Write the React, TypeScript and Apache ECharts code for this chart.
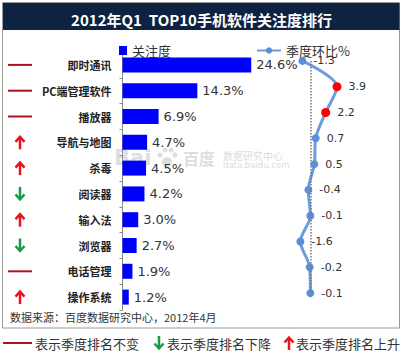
import React, { useEffect, useRef } from "react";
import * as echarts from "echarts";

const categories = ["即时通讯", "PC端管理软件", "播放器", "导航与地图", "杀毒", "阅读器", "输入法", "浏览器", "电话管理", "操作系统"];
const attention = [24.6, 14.3, 6.9, 4.7, 4.5, 4.2, 3.0, 2.7, 1.9, 1.2];
const qoq = [-1.3, 3.9, 2.2, 0.7, 0.5, -0.4, -0.1, -1.6, -0.2, -0.1];
const rankChange = ["same", "same", "same", "up", "up", "down", "up", "down", "same", "up"];
const footerItems = [
  { kind: "same", text: "表示季度排名不变" },
  { kind: "down", text: "表示季度排名下降" },
  { kind: "up", text: "表示季度排名上升" },
];

const CJK = "'Noto Sans CJK SC', 'Noto Sans', sans-serif";
const NUM = "'DejaVu Sans', Verdana, sans-serif";
const RED = "#e8141b";
const GREEN = "#1a9b48";
const DARKRED = "#a8141e";

function indicator(kind: string, cx: number, cy: number, dashX0: number, dashX1: number): any[] {
  if (kind === "same") {
    return [{ type: "line", shape: { x1: dashX0, y1: cy, x2: dashX1, y2: cy }, style: { stroke: DARKRED, lineWidth: 2 } }];
  }
  if (kind === "up") {
    return [
      { type: "line", shape: { x1: cx, y1: cy - 5, x2: cx, y2: cy + 7 }, style: { stroke: RED, lineWidth: 2.5 } },
      { type: "polyline", shape: { points: [[cx - 4.5, cy - 0.5], [cx, cy - 5.5], [cx + 4.5, cy - 0.5]] }, style: { stroke: RED, lineWidth: 2.5, fill: null } },
    ];
  }
  return [
    { type: "line", shape: { x1: cx, y1: cy + 5, x2: cx, y2: cy - 7 }, style: { stroke: GREEN, lineWidth: 2.5 } },
    { type: "polyline", shape: { points: [[cx - 4.5, cy + 0.5], [cx, cy + 5.5], [cx + 4.5, cy + 0.5]] }, style: { stroke: GREEN, lineWidth: 2.5, fill: null } },
  ];
}

export default function App() {
  const ref = useRef<HTMLDivElement>(null);
  useEffect(() => {
    if (!ref.current) return;
    const chart = echarts.init(ref.current, null, { renderer: "svg", width: 403, height: 357 });
    const option: any = {
      animation: false,
      backgroundColor: "#ffffff",
      title: {
        text: "2012年Q1  TOP10手机软件关注度排行",
        left: "center",
        top: 7,
        textStyle: { color: "#ffffff", fontSize: 15, fontWeight: "bold", fontFamily: CJK },
      },
      legend: [
        {
          data: ["关注度"],
          left: 114,
          top: 39,
          icon: "rect",
          itemWidth: 8,
          itemHeight: 9,
          textStyle: { fontSize: 13, color: "#333", fontFamily: CJK },
        },
        {
          data: ["季度环比%"],
          left: 251,
          top: 39,
          itemWidth: 24,
          itemHeight: 8,
          textStyle: { fontSize: 13, color: "#333", fontFamily: CJK },
        },
      ],
      grid: [
        { left: 122.5, top: 52, width: 157, height: 258 },
        { left: 297.7, top: 48, width: 53.3, height: 258 },
      ],
      xAxis: [
        { type: "value", gridIndex: 0, min: 0, max: 30, show: false },
        { type: "value", gridIndex: 1, min: -2, max: 6, show: false },
      ],
      yAxis: [
        {
          type: "category",
          gridIndex: 0,
          data: categories,
          inverse: true,
          axisLine: { show: true, lineStyle: { color: "#8a8a8a", width: 1 } },
          axisTick: { show: true, length: 3, lineStyle: { color: "#8a8a8a" } },
          axisLabel: { fontSize: 11, fontWeight: "bold", color: "#222", fontFamily: CJK, margin: 11 },
          splitLine: { show: false },
        },
        {
          type: "category",
          gridIndex: 1,
          data: categories,
          inverse: true,
          show: false,
        },
      ],
      series: [
        {
          name: "关注度",
          type: "bar",
          xAxisIndex: 0,
          yAxisIndex: 0,
          data: attention,
          barWidth: 15,
          itemStyle: { color: "#0000ff" },
          z: 3,
          label: {
            show: true,
            position: "right",
            distance: 5,
            formatter: (p: any) => p.value.toFixed(1) + "%",
            fontSize: 13,
            color: "#333",
            fontFamily: NUM,
          },
        },
        {
          name: "季度环比%",
          type: "line",
          xAxisIndex: 1,
          yAxisIndex: 1,
          data: qoq.map((v) => ({
            value: v,
            symbolSize: v > 1 ? 9 : 8,
            itemStyle: { color: v > 1 ? "#ff0000" : "#5b8fd8" },
          })),
          smooth: 0.3,
          symbol: "circle",
          symbolSize: 8,
          itemStyle: { color: "#5b8fd8" },
          lineStyle: { color: "#6c9cdc", width: 3 },
          z: 4,
          label: {
            show: true,
            position: "right",
            distance: 7,
            fontSize: 11,
            color: "#333",
            fontFamily: NUM,
            formatter: (p: any) => p.value.toFixed(1),
          },
          markLine: {
            silent: true,
            symbol: ["none", "none"],
            label: { show: false },
            lineStyle: { type: "dotted", color: "#777", width: 1.5 },
            data: [[{ coord: [0, categories[0]] }, { coord: [0, categories[categories.length - 1]] }]],
          },
        },
      ],
    };
    chart.setOption(option);

    const g: any[] = [
      { type: "rect", z: -10, shape: { x: 2.5, y: 2.5, width: 397, height: 325.5 }, style: { fill: "#fff", stroke: "#9a9a9a", lineWidth: 1 } },
      { type: "rect", z: -9, shape: { x: 3, y: 3, width: 396.5, height: 27 }, style: { fill: "#0e2341" } },
      // watermark
      { type: "text", z: -5, x: 114, y: 158, style: { text: "Bai", fill: "#dedede", font: "bold 21px 'DejaVu Sans', sans-serif", verticalAlign: "middle" } },
      { type: "circle", z: -5, shape: { cx: 167, cy: 162, r: 5 }, style: { fill: "#dedede" } },
      { type: "circle", z: -5, shape: { cx: 160, cy: 155, r: 2.5 }, style: { fill: "#dedede" } },
      { type: "circle", z: -5, shape: { cx: 165, cy: 150, r: 2.5 }, style: { fill: "#dedede" } },
      { type: "circle", z: -5, shape: { cx: 171, cy: 150, r: 2.5 }, style: { fill: "#dedede" } },
      { type: "circle", z: -5, shape: { cx: 175, cy: 155, r: 2.5 }, style: { fill: "#dedede" } },
      { type: "text", z: -5, x: 183, y: 158, style: { text: "百度", fill: "#dedede", font: `bold 16px ${CJK}`, verticalAlign: "middle" } },
      { type: "text", z: -5, x: 223, y: 155, style: { text: "数据研究中心", fill: "#dcdcdc", font: `10px ${CJK}`, verticalAlign: "middle" } },
      { type: "text", z: -5, x: 223, y: 164.5, style: { text: "data.baidu.com", fill: "#dcdcdc", font: `8.5px 'DejaVu Sans', sans-serif`, verticalAlign: "middle" } },
      // source
      { type: "text", x: 10, y: 317, style: { text: "数据来源：百度数据研究中心，2012年4月", fill: "#333", font: `11px ${CJK}`, verticalAlign: "middle" } },
    ];
    categories.forEach((c, i) => {
      const cy = chart.convertToPixel({ yAxisIndex: 0 } as any, c) as unknown as number;
      indicator(rankChange[i], 20, cy, 8, 32).forEach((e) => g.push(e));
    });
    // footer legend
    const footY = 343;
    const footLayout = [
      { ix: 17, tx: 35 },
      { ix: 159, tx: 167 },
      { ix: 289, tx: 296 },
    ];
    footerItems.forEach((f, i) => {
      const L = footLayout[i];
      indicator(f.kind, L.ix, footY, 3, 32).forEach((e) => g.push(e));
      g.push({ type: "text", x: L.tx, y: footY, style: { text: f.text, fill: "#333", font: `13px ${CJK}`, verticalAlign: "middle" } });
    });
    chart.setOption({ graphic: g });

    return () => chart.dispose();
  }, []);
  return <div ref={ref} style={{ width: 403, height: 357, position: "absolute", left: 0, top: 0 }} />;
}
